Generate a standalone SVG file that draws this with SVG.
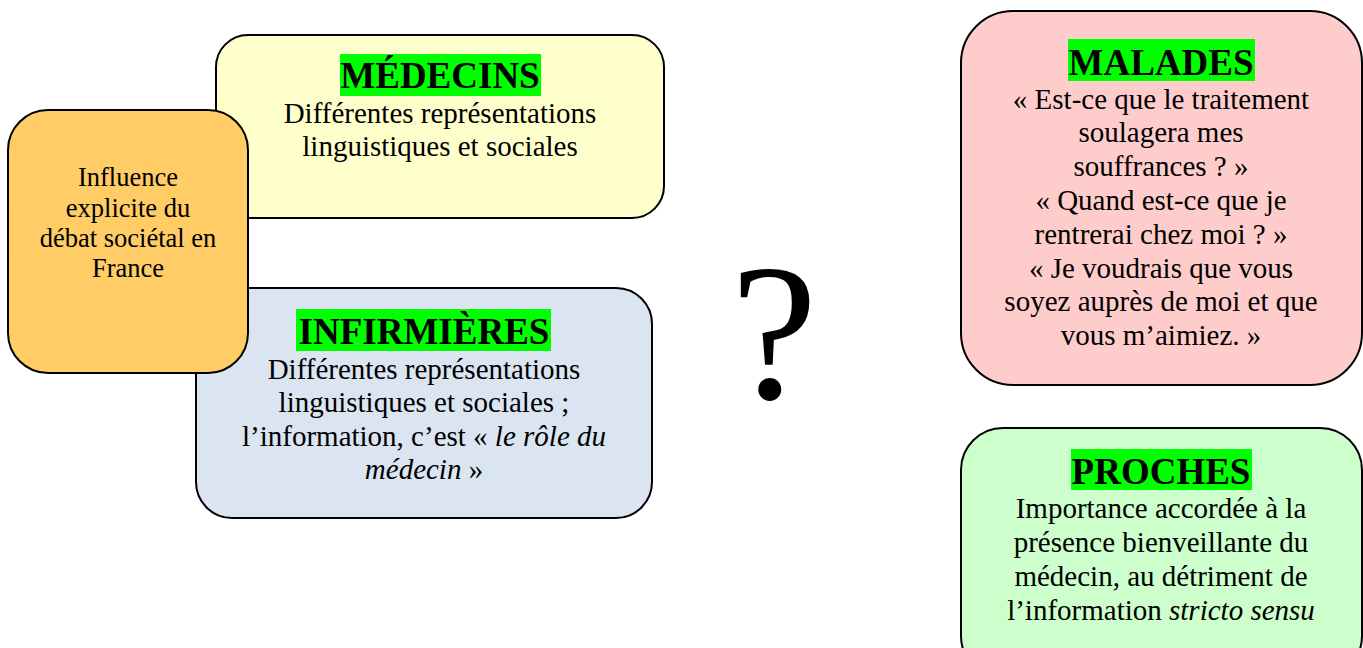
<svg xmlns="http://www.w3.org/2000/svg" width="1363" height="648" viewBox="0 0 1363 648">
<style>
.box{stroke:#000;stroke-width:2}
.hl{fill:#00FF00}
.h{font-family:"Liberation Serif","Times New Roman",serif;font-weight:bold;font-size:37px;text-anchor:middle;fill:#000}
.t{font-family:"Liberation Serif","Times New Roman",serif;font-size:29px;text-anchor:middle;fill:#000}
.s{font-family:"Liberation Serif","Times New Roman",serif;font-size:26.5px;text-anchor:middle;fill:#000}
.q{font-family:"Liberation Serif","Times New Roman",serif;font-size:195px;text-anchor:middle;fill:#000}
</style>
<rect width="1363" height="648" fill="#fff"/>
<g id="medecins">
<rect class="box" x="216" y="35" width="448" height="183" rx="32" fill="#FFFFCC"/>
<rect class="hl" x="340" y="54" width="201" height="42"/>
<text class="h" x="440" y="88">MÉDECINS</text>
<text class="t" x="440" y="123">Différentes représentations</text>
<text class="t" x="440" y="156">linguistiques et sociales</text>
</g>
<g id="infirmieres">
<rect class="box" x="196" y="288" width="456" height="230" rx="36" fill="#DBE5F1"/>
<rect class="hl" x="296" y="309" width="255" height="42"/>
<text class="h" x="424" y="344">INFIRMIÈRES</text>
<text class="t" x="424" y="379">Différentes représentations</text>
<text class="t" x="424" y="412">linguistiques et sociales ;</text>
<text class="t" x="424" y="446">l’information, c’est « <tspan font-style="italic">le rôle du</tspan></text>
<text class="t" x="424" y="479"><tspan font-style="italic">médecin</tspan> »</text>
</g>
<g id="influence">
<rect class="box" x="8" y="110" width="240" height="263" rx="40" fill="#FFCC66"/>
<text class="s" x="128" y="186">Influence</text>
<text class="s" x="128" y="217">explicite du</text>
<text class="s" x="128" y="247">débat sociétal en</text>
<text class="s" x="128" y="277">France</text>
</g>
<g id="question">
<text class="q" x="774" y="398">?</text>
</g>
<g id="malades">
<rect class="box" x="961" y="11" width="401" height="374" rx="52" fill="#FFCCCC"/>
<rect class="hl" x="1068" y="39" width="187" height="42"/>
<text class="h" x="1161" y="75">MALADES</text>
<text class="t" x="1161" y="109">« Est-ce que le traitement</text>
<text class="t" x="1161" y="142">soulagera mes</text>
<text class="t" x="1161" y="176">souffrances ? »</text>
<text class="t" x="1161" y="210">« Quand est-ce que je</text>
<text class="t" x="1161" y="244">rentrerai chez moi ? »</text>
<text class="t" x="1161" y="278">« Je voudrais que vous</text>
<text class="t" x="1161" y="311">soyez auprès de moi et que</text>
<text class="t" x="1161" y="345">vous m’aimiez. »</text>
</g>
<g id="proches">
<rect class="box" x="961" y="428" width="401" height="250" rx="42" fill="#CCFFCC"/>
<rect class="hl" x="1071" y="449" width="181" height="41"/>
<text class="h" x="1161" y="484">PROCHES</text>
<text class="t" x="1161" y="518">Importance accordée à la</text>
<text class="t" x="1161" y="552">présence bienveillante du</text>
<text class="t" x="1161" y="586">médecin, au détriment de</text>
<text class="t" x="1161" y="620">l’information <tspan font-style="italic">stricto sensu</tspan></text>
</g>
<g id="connectors"/>
</svg>
